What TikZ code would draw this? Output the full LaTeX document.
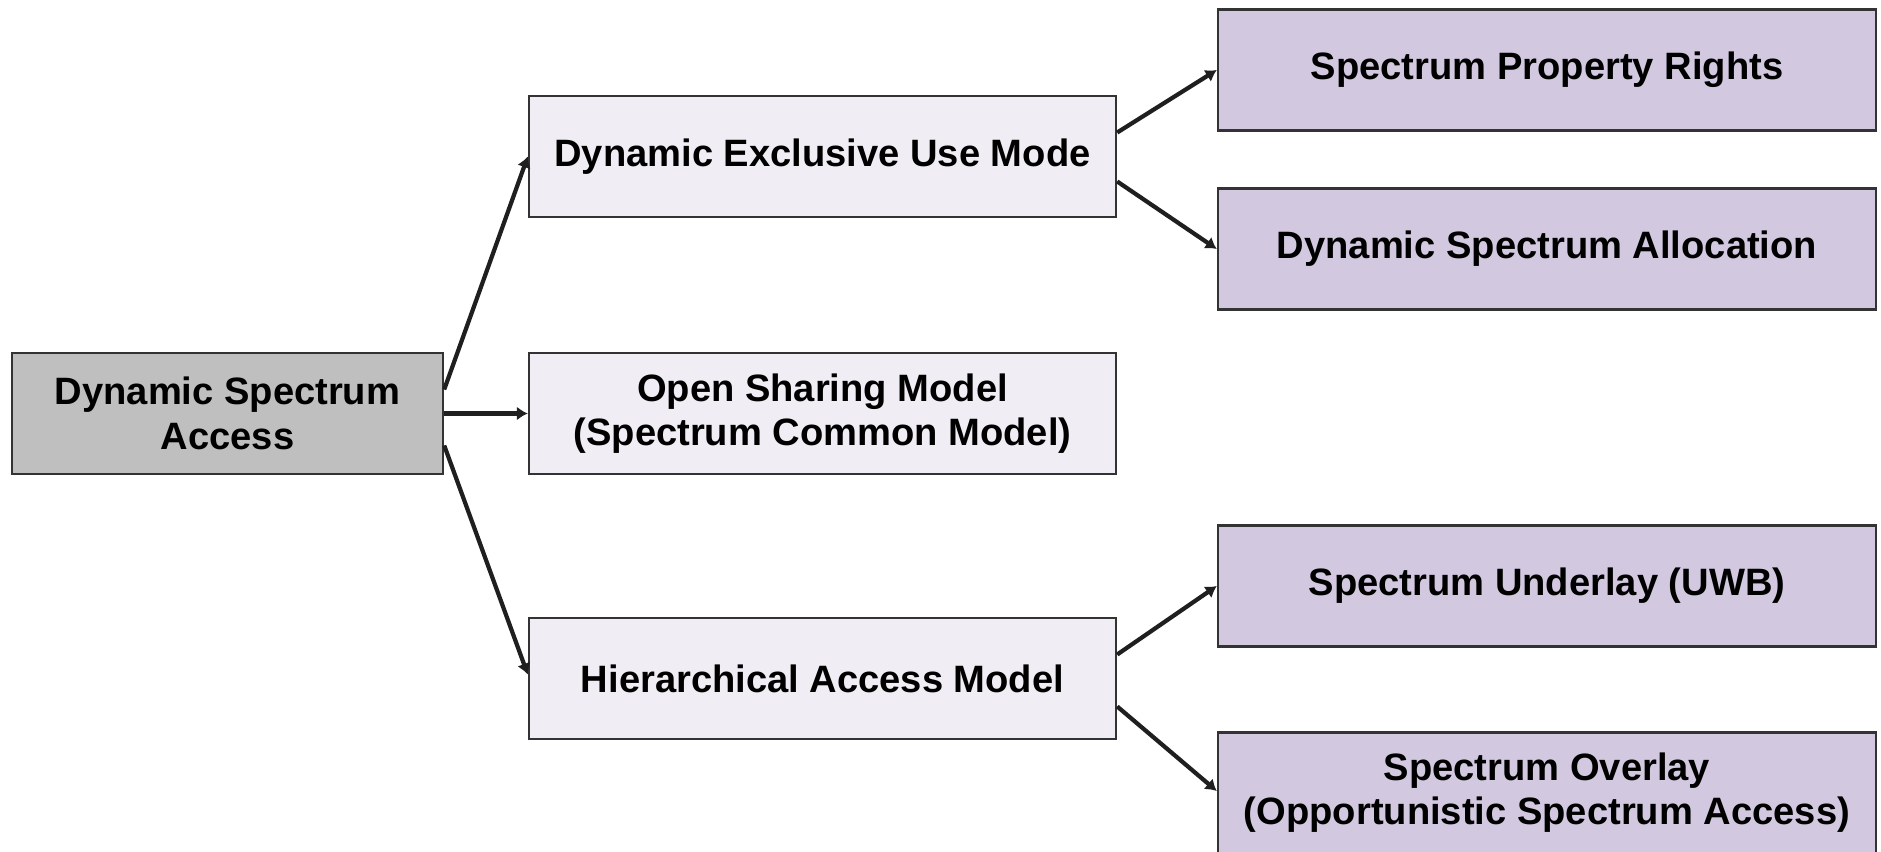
\documentclass[tikz,border=0pt]{standalone}
\usepackage{fontspec}
\setmainfont{Liberation Sans}
\usetikzlibrary{arrows.meta}
\definecolor{rootgray}{HTML}{BFBFBF}
\definecolor{midlav}{HTML}{F0EEF4}
\definecolor{leaflav}{HTML}{D2C8DF}
\definecolor{edgegray}{HTML}{333333}
\begin{document}
\begin{tikzpicture}[
    box/.style={draw=edgegray,line width=0.7pt,align=center,inner sep=0pt,
        font=\fontsize{10.85}{12.6}\selectfont\bfseries},
    rootbox/.style={box,fill=rootgray,minimum width=4.31cm,minimum height=1.21cm},
    midbox/.style={box,fill=midlav,minimum width=5.87cm,minimum height=1.21cm},
    leafbox/.style={box,fill=leaflav,minimum width=6.58cm,minimum height=1.21cm},
    link/.style={line width=1.2pt,color=black!88,-{Latex[length=1.1mm,width=1.4mm]}}
]
                \clip (0,0) rectangle (18.81,-8.52);
                \fill[white] (0,0) rectangle (18.81,-8.52);
                % left column
                \node[rootbox] (dsa) at (2.275,-4.135) {Dynamic Spectrum\\Access};
                % middle column
                \node[midbox] (excl) at (8.225,-1.565) {Dynamic Exclusive Use Mode};
                \node[midbox] (open) at (8.225,-4.135) {Open Sharing Model\\(Spectrum Common Model)};
                \node[midbox] (hier) at (8.225,-6.785) {Hierarchical Access Model};
                % right column
                \node[leafbox] (prop) at (15.47,-0.70) {Spectrum Property Rights};
                \node[leafbox] (alloc) at (15.47,-2.49) {Dynamic Spectrum Allocation};
                \node[leafbox] (under) at (15.47,-5.86) {Spectrum Underlay (UWB)};
                \node[leafbox] (over) at (15.47,-7.93) {Spectrum Overlay\\(Opportunistic Spectrum Access)};
                % connectors
                \draw[link] ([yshift=0.24cm]dsa.east) -- (excl.west);
                \draw[link] (dsa.east) -- (open.west);
                \draw[link] ([yshift=-0.32cm]dsa.east) -- ([yshift=0.04cm]hier.west);
                \draw[link] ([yshift=0.24cm]excl.east) -- (prop.west);
                \draw[link] ([yshift=-0.25cm]excl.east) -- (alloc.west);
                \draw[link] ([yshift=0.24cm]hier.east) -- (under.west);
                \draw[link] ([yshift=-0.28cm]hier.east) -- ([yshift=0.02cm]over.west);
\end{tikzpicture}
\end{document}
